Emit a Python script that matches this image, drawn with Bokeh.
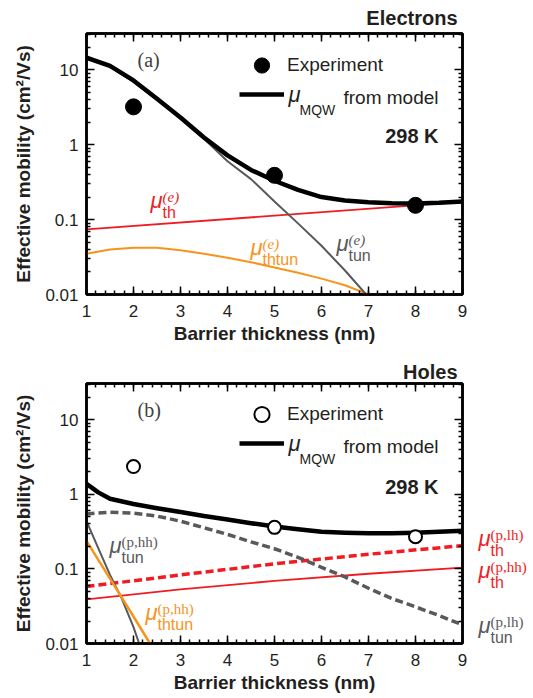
from bokeh.plotting import figure
from bokeh.layouts import column, row
from bokeh.models import (Label, Legend, LegendItem, LinearAxis, LogAxis, Title,
                          SingleIntervalTicker, FixedTicker, Range1d)
from bokeh.embed import file_html
from bokeh.resources import INLINE

# ---------------- data ----------------
x_range_vals = [1, 9]
y_range_vals = [0.01, 30.5]
y_ticks = [0.01, 0.1, 1, 10]
y_tick_labels = ["0.01", "0.1", "1", "10"]
y_minor_ticks = [m * 10.0 ** e for e in range(-2, 2) for m in range(2, 10)]

# Electrons (a)
exp_x = [2, 5, 8]
exp_e = [3.2, 0.39, 0.155]
mqw_e_x = [1, 1.5, 2, 2.5, 3, 3.5, 4, 4.5, 5, 5.5, 6, 6.5, 7, 7.5, 8, 8.5, 9]
mqw_e = [14.5, 11.3, 7.2, 4.1, 2.3, 1.25, 0.72, 0.46, 0.33, 0.25, 0.20, 0.18,
         0.17, 0.165, 0.164, 0.168, 0.175]
th_e_x = [1, 9]
th_e = [0.074, 0.172]
thtun_e_x = [1, 1.5, 2, 2.5, 3, 3.5, 4, 4.5, 5, 5.5, 6, 6.5, 7]
thtun_e = [0.035, 0.040, 0.042, 0.042, 0.039, 0.035, 0.031, 0.027, 0.023,
           0.0195, 0.0163, 0.0133, 0.0100]
tun_e_x = [1, 1.5, 2, 2.5, 3, 3.5, 4, 4.5, 5, 5.5, 6, 6.5, 6.95]
tun_e = [14.5, 11.0, 6.9, 4.0, 2.24, 1.2, 0.60, 0.347, 0.174, 0.089, 0.0447,
         0.0209, 0.010]

# Holes (b)
exp_h = [2.35, 0.36, 0.27]
mqw_h_x = [1, 1.25, 1.5, 2, 2.5, 3, 3.5, 4, 4.5, 5, 5.5, 6, 6.5, 7, 7.5, 8, 8.5, 9]
mqw_h = [1.38, 1.06, 0.87, 0.74, 0.65, 0.58, 0.51, 0.46, 0.41, 0.37, 0.34,
         0.315, 0.305, 0.30, 0.30, 0.305, 0.315, 0.325]
tun_lh_x = [1, 1.5, 2, 2.5, 3, 3.5, 4, 4.5, 5, 5.5, 6, 6.5, 7, 7.5, 8, 8.5, 9]
tun_lh = [0.545, 0.575, 0.56, 0.51, 0.435, 0.356, 0.29, 0.23, 0.186, 0.143,
          0.105, 0.078, 0.055, 0.040, 0.031, 0.0237, 0.0178]
th_lh_x = [1, 3, 5, 7, 9]
th_lh = [0.058, 0.083, 0.117, 0.157, 0.205]
th_hh_x = [1, 3, 5, 7, 9]
th_hh = [0.039, 0.053, 0.069, 0.086, 0.104]
tun_hh_x = [1, 1.25, 1.5, 1.75, 2.0, 2.12]
tun_hh = [0.435, 0.19, 0.083, 0.040, 0.0166, 0.010]
thtun_hh_x = [1, 1.5, 2, 2.35]
thtun_hh = [0.237, 0.074, 0.023, 0.010]

# ---------------- style ----------------
RED = "#EE1D24"
ORANGE = "#F7941D"
GREY = "#58595B"
TXT = "#231F20"
SANS = "Liberation Sans"
SERIF = "Liberation Serif"
FW, FH = 376, 264
BL = 86


def style_axis(ax, labels=True):
    ax.axis_line_width = 2.5
    ax.axis_line_color = "black"
    ax.major_tick_in = 8
    ax.major_tick_out = 0
    ax.minor_tick_in = 4
    ax.minor_tick_out = 0
    ax.major_tick_line_width = 1.5
    ax.minor_tick_line_width = 1.5
    ax.major_tick_line_color = "black"
    ax.minor_tick_line_color = "black"
    ax.major_label_text_font = SANS
    if labels:
        ax.major_label_text_color = TXT
        ax.major_label_text_font_size = "17px"
    else:
        ax.major_label_text_color = None
        ax.major_label_text_font_size = "1px"
        ax.major_label_standoff = 0
    ax.axis_label_text_font = SANS
    ax.axis_label_text_font_style = "bold"
    ax.axis_label_text_font_size = "19px"
    ax.axis_label_text_color = TXT


def base_fig(border_top, border_bottom, border_right, title, title_standoff):
    p = figure(width=BL + FW + border_right, height=border_top + FH + border_bottom,
               x_range=Range1d(*x_range_vals), y_range=Range1d(*y_range_vals),
               y_axis_type="log", output_backend="svg", toolbar_location=None,
               min_border_left=BL, min_border_right=border_right,
               min_border_top=border_top, min_border_bottom=border_bottom,
               background_fill_color="white", border_fill_color="white")
    p.grid.visible = False
    p.outline_line_color = "black"
    p.outline_line_width = 2.5
    xt = SingleIntervalTicker(interval=1, num_minor_ticks=5)
    yt = FixedTicker(ticks=y_ticks, minor_ticks=y_minor_ticks)
    p.xaxis.ticker = xt
    p.yaxis.ticker = yt
    p.yaxis.major_label_overrides = dict(zip(y_ticks, y_tick_labels))
    p.xaxis.axis_label = "Barrier thickness (nm)"
    p.yaxis.axis_label = "Effective mobility (cm\u00b2/Vs)"
    for ax in p.xaxis + p.yaxis:
        style_axis(ax)
    p.xaxis.major_label_standoff = 10
    p.xaxis.axis_label_standoff = 3
    p.yaxis.major_label_standoff = 8
    p.yaxis.axis_label_standoff = 8
    top = LinearAxis(ticker=xt)
    style_axis(top, labels=False)
    p.add_layout(top, "above")
    right = LogAxis(ticker=yt)
    style_axis(right, labels=False)
    p.add_layout(right, "right")
    p.add_layout(Title(text=title, align="right", offset=5, standoff=title_standoff,
                       text_font=SANS, text_font_size="20px", text_font_style="bold",
                       text_color=TXT), "above")
    return p


def txt(p, fx, fy, text, size="19px", font=SANS, style="normal", color=TXT,
        align="left", fh=FH):
    # fx, fy: pixels from the frame's top-left corner (fy = visual centre)
    p.add_layout(Label(x=fx, y=fh - fy, x_units="screen", y_units="screen",
                       text=text, text_font=font, text_font_size=size,
                       text_font_style=style, text_color=color,
                       text_align=align, text_baseline="middle"))


def mu(p, fx, fy, sub, sup, color, sup_style="italic", fh=FH):
    txt(p, fx, fy - 4, "\u03bc", size="22px", style="italic", color=color, fh=fh)
    txt(p, fx + 12, fy + 8, sub, size="16px", color=color, fh=fh)
    txt(p, fx + 12, fy - 8, sup, size="15px", font=SERIF, style=sup_style,
        color=color, fh=fh)


def legend_block(p, exp_renderer, mqw_renderer):
    common = dict(glyph_width=45, padding=0, margin=0, border_line_color=None,
                  background_fill_alpha=0, spacing=0)
    l1 = Legend(items=[LegendItem(label="Experiment", renderers=[exp_renderer])],
                location=(153, 210), glyph_height=38, label_height=38,
                label_standoff=3, label_text_font=SANS, label_text_font_size="19px",
                label_text_color=TXT, **common)
    # the line entry's label is typeset separately below (mu + subscript)
    l2 = Legend(items=[LegendItem(label="\u03bc", renderers=[mqw_renderer])],
                location=(153, 185), glyph_height=30, label_height=30,
                label_standoff=4, label_text_font=SANS, label_text_font_size="22px",
                label_text_font_style="italic", label_text_color=None, **common)
    p.add_layout(l1)
    p.add_layout(l2)
    txt(p, 202, 64, "\u03bc", size="22px", style="italic")
    txt(p, 213, 79, "MQW", size="14px")
    txt(p, 257, 67, "from model", size="19px")


# ---------------- (a) electrons ----------------
p1 = base_fig(32, 50, 63, "Electrons", 9)
p1.line(th_e_x, th_e, line_color=RED, line_width=1.8)
p1.line(thtun_e_x, thtun_e, line_color=ORANGE, line_width=2)
p1.line(tun_e_x, tun_e, line_color=GREY, line_width=2)
ln1 = p1.line(mqw_e_x, mqw_e, line_color="black", line_width=4.5, line_join="round")
sc1 = p1.scatter(exp_x, exp_e, marker="circle", size=16, fill_color="black",
                 line_color="black")
legend_block(p1, sc1, ln1)
mu(p1, 64, 174, "th", "(e)", RED)
mu(p1, 164, 221, "thtun", "(e)", ORANGE)
mu(p1, 250, 217, "tun", "(e)", GREY)
txt(p1, 51, 29, "(a)", size="20px", font=SERIF, color="#404040")
txt(p1, 352, 105, "298 K", size="20px", style="bold", align="right")

# ---------------- (b) holes ----------------
p2 = base_fig(37, 48, 6, "Holes", 2)
p2.line(th_hh_x, th_hh, line_color=RED, line_width=1.8)
p2.line(th_lh_x, th_lh, line_color=RED, line_width=3.5, line_dash="8 4")
p2.line(tun_lh_x, tun_lh, line_color=GREY, line_width=3.5, line_dash="8 4")
p2.line(tun_hh_x, tun_hh, line_color=GREY, line_width=2)
p2.line(thtun_hh_x, thtun_hh, line_color=ORANGE, line_width=2.5)
ln2 = p2.line(mqw_h_x, mqw_h, line_color="black", line_width=4.5, line_join="round")
sc2 = p2.scatter(exp_x, exp_h, marker="circle", size=13, fill_color="white",
                 line_color="black", line_width=2)
legend_block(p2, sc2, ln2)
mu(p2, 23, 170, "tun", "(p,hh)", GREY, sup_style="normal")
mu(p2, 59, 237, "thtun", "(p,hh)", ORANGE, sup_style="normal")
txt(p2, 51, 30, "(b)", size="20px", font=SERIF, color="#404040")
txt(p2, 352, 107, "298 K", size="20px", style="bold", align="right")

# side strip holding the curve names to the right of panel (b);
# its frame is aligned with panel (b)'s frame by the row layout
ps = figure(width=63, height=37 + FH + 48, x_range=Range1d(0, 1),
            y_range=Range1d(0, 1), output_backend="svg", toolbar_location=None,
            x_axis_location=None, y_axis_location=None,
            min_border_left=0, min_border_right=0, min_border_top=37,
            min_border_bottom=48, outline_line_color=None,
            background_fill_color="white", border_fill_color="white")
ps.grid.visible = False
mu(ps, 10, 163, "th", "(p,lh)", RED, sup_style="normal")
mu(ps, 10, 195, "th", "(p,hh)", RED, sup_style="normal")
mu(ps, 10, 250, "tun", "(p,lh)", GREY, sup_style="normal")

layout = column(p1, row(p2, ps))
open("out.html", "w").write(file_html(layout, INLINE))
